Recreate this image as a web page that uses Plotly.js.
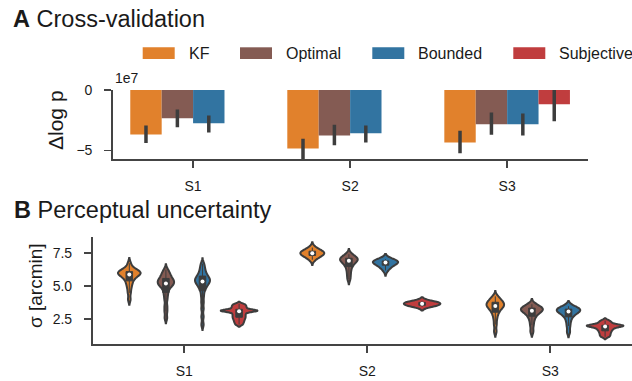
<!DOCTYPE html>
<html><head><meta charset="utf-8">
<script src="https://cdn.plot.ly/plotly-3.0.1.min.js"></script>
<style>html,body{margin:0;padding:0;background:#fff;overflow:hidden}</style>
</head><body><div id="chart" style="width:632px;height:381px"></div>
<script>
// ---------- data ----------
const subjects = ['S1', 'S2', 'S3'];
const models = ['KF', 'Optimal', 'Bounded', 'Subjective'];

// Panel A: delta log p (units of 1e7), with CI bounds
const dlogp_KF = [-3.67, -4.83, -4.33];
const dlogp_KF_lo = [-4.38, -5.69, -5.22];
const dlogp_KF_hi = [-2.94, -4.03, -3.36];
const dlogp_Optimal = [-2.33, -3.75, -2.83];
const dlogp_Optimal_lo = [-3.08, -4.55, -3.69];
const dlogp_Optimal_hi = [-1.61, -2.86, -1.86];
const dlogp_Bounded = [-2.75, -3.58, -2.83];
const dlogp_Bounded_lo = [-3.50, -4.33, -3.75];
const dlogp_Bounded_hi = [-2.11, -2.92, -1.94];
const dlogp_Subjective = [null, null, -1.17];
const dlogp_Subjective_lo = [null, null, -2.58];
const dlogp_Subjective_hi = [null, null, 0.0];

// Panel B: sigma samples [arcmin]
const sigma_KF_S1 = [4.0, 4.5, 4.85, 5.1, 5.3, 5.45, 5.6, 5.7, 5.78, 5.85, 5.9, 5.95, 6.0, 6.03, 6.06, 6.1, 6.15, 6.22, 6.3, 6.42, 6.75];
const sigma_KF_S2 = [7.01, 7.15, 7.25, 7.32, 7.38, 7.42, 7.46, 7.5, 7.53, 7.57, 7.62, 7.67, 7.73, 7.8, 7.93];
const sigma_KF_S3 = [1.58, 2.1, 2.5, 2.8, 3.0, 3.15, 3.27, 3.36, 3.44, 3.5, 3.56, 3.62, 3.68, 3.74, 3.81, 3.89, 3.98, 4.1, 4.24];
const sigma_Optimal_S1 = [2.6, 3.1, 3.5, 4.0, 4.35, 4.6, 4.87, 4.97, 5.07, 5.15, 5.22, 5.29, 5.35, 5.42, 5.49, 5.57, 5.67, 5.79, 5.92, 6.05, 6.27];
const sigma_Optimal_S2 = [5.55, 5.9, 6.2, 6.45, 6.62, 6.74, 6.84, 6.94, 6.98, 7.03, 7.08, 7.14, 7.2, 7.3, 7.43];
const sigma_Optimal_S3 = [1.58, 2.05, 2.4, 2.65, 2.82, 2.95, 3.05, 3.12, 3.18, 3.22, 3.27, 3.32, 3.38, 3.45, 3.53, 3.64];
const sigma_Bounded_S1 = [2.1, 2.7, 3.3, 3.8, 4.25, 4.6, 4.85, 4.98, 5.1, 5.2, 5.28, 5.36, 5.42, 5.48, 5.55, 5.62, 5.7, 5.8, 5.92, 6.05, 6.25, 6.45, 6.72];
const sigma_Bounded_S2 = [6.2, 6.38, 6.5, 6.6, 6.68, 6.74, 6.79, 6.82, 6.85, 6.88, 6.92, 6.96, 7.0, 7.05];
const sigma_Bounded_S3 = [1.54, 2.0, 2.35, 2.6, 2.78, 2.9, 2.99, 3.06, 3.12, 3.16, 3.2, 3.25, 3.3, 3.36, 3.42, 3.49];
const sigma_Subjective_S1 = [2.1, 2.24, 2.36, 2.47, 2.57, 2.66, 2.75, 2.84, 2.93, 3.02, 3.1, 3.12, 3.14, 3.16, 3.18, 3.2, 3.26, 3.34, 3.42, 3.5, 3.58, 3.67];
const sigma_Subjective_S2 = [3.44, 3.49, 3.54, 3.58, 3.62, 3.66, 3.7, 3.73, 3.76, 3.8, 3.84, 3.9];
const sigma_Subjective_S3 = [1.18, 1.3, 1.42, 1.53, 1.63, 1.72, 1.8, 1.87, 1.93, 1.99, 2.01, 2.02, 2.03, 2.05, 2.12, 2.2, 2.3, 2.41];

// ---------- styles ----------
const colors = {KF: '#e1812c', Optimal: '#845b53', Bounded: '#3274a1', Subjective: '#c03d3e'};
const kdeBandwidth = {KF: [0.2, 0.2, 0.2], Optimal: [0.2, 0.2, 0.2], Bounded: [0.2, 0.2, 0.2], Subjective: [0.08, 0.14, 0.09]};
const dark = '#3d3d3d';
const axisColor = '#444444';
const textColor = '#1a1a1a';
const FONT = 'Liberation Sans, Arial, Helvetica, sans-serif';
const W = 632, H = 381;
const px = v => v / W, py = v => 1 - v / H;

const barData = {
  KF: [dlogp_KF, dlogp_KF_lo, dlogp_KF_hi],
  Optimal: [dlogp_Optimal, dlogp_Optimal_lo, dlogp_Optimal_hi],
  Bounded: [dlogp_Bounded, dlogp_Bounded_lo, dlogp_Bounded_hi],
  Subjective: [dlogp_Subjective, dlogp_Subjective_lo, dlogp_Subjective_hi]
};
const sigmaData = {
  KF: [sigma_KF_S1, sigma_KF_S2, sigma_KF_S3],
  Optimal: [sigma_Optimal_S1, sigma_Optimal_S2, sigma_Optimal_S3],
  Bounded: [sigma_Bounded_S1, sigma_Bounded_S2, sigma_Bounded_S3],
  Subjective: [sigma_Subjective_S1, sigma_Subjective_S2, sigma_Subjective_S3]
};
function median(a) {
  const s = a.slice().sort((p, q) => p - q); const n = s.length;
  return n % 2 ? s[(n - 1) / 2] : (s[n / 2 - 1] + s[n / 2]) / 2;
}

const traces = [];
models.forEach(m => {
  const [v, lo, hi] = barData[m];
  traces.push({
    type: 'bar', x: subjects, y: v, name: m, xaxis: 'x', yaxis: 'y',
    offsetgroup: 'bar_' + m, alignmentgroup: 'bars',
    marker: {color: colors[m], line: {width: 0}}, showlegend: false, hoverinfo: 'skip',
    error_y: {type: 'data', symmetric: false,
      array: v.map((d, i) => d === null ? null : hi[i] - d),
      arrayminus: v.map((d, i) => d === null ? null : d - lo[i]),
      color: dark, thickness: 3.5, width: 0}
  });
});
// one violin per (model, subject); widths scaled within each subject (like seaborn scale_hue)
models.forEach(m => {
  subjects.forEach((s, i) => {
    const ys = sigmaData[m][i];
    traces.push({
      type: 'violin', x: ys.map(() => s), y: ys, name: m, xaxis: 'x2', yaxis: 'y2', orientation: 'v',
      offsetgroup: m, alignmentgroup: 'sig',
      scalegroup: s, scalemode: 'width', spanmode: 'soft', bandwidth: kdeBandwidth[m][i],
      fillcolor: colors[m], opacity: 1, line: {color: dark, width: 2},
      points: false, meanline: {visible: false},
      box: {visible: true, width: 0.18, fillcolor: dark, line: {color: dark, width: 1}},
      showlegend: false, hoverinfo: 'skip'
    });
  });
});
models.forEach(m => {
  traces.push({
    type: 'scatter', mode: 'markers', x: subjects, y: sigmaData[m].map(median),
    xaxis: 'x2', yaxis: 'y2', offsetgroup: m, alignmentgroup: 'sig', orientation: 'v',
    marker: {color: '#ffffff', size: 4, line: {width: 0}}, showlegend: false, hoverinfo: 'skip'
  });
});

const tickfont = {family: FONT, size: 14, color: textColor};
const axBase = {showline: true, linecolor: axisColor, linewidth: 1.8, ticks: 'outside', ticklen: 7,
  tickwidth: 1.8, tickcolor: axisColor, showgrid: false, zeroline: false, tickfont: tickfont, fixedrange: true};

const shapes = [], annotations = [];
const legX = [142.7, 240, 372.3, 513.3];
models.forEach((m, i) => {
  shapes.push({type: 'rect', xref: 'paper', yref: 'paper', x0: px(legX[i]), x1: px(legX[i] + 32),
    y0: py(59), y1: py(47.3), fillcolor: colors[m], line: {width: 0}});
  annotations.push({xref: 'paper', yref: 'paper', x: px(legX[i] + 44), y: py(53), text: m, showarrow: false,
    xanchor: 'left', yanchor: 'middle', font: {family: FONT, size: 16, color: textColor}});
});
annotations.push(
  {xref: 'paper', yref: 'paper', x: px(11), y: py(19), text: '<b>A</b> Cross-validation', showarrow: false,
   xanchor: 'left', yanchor: 'middle', font: {family: FONT, size: 23.5, color: textColor}},
  {xref: 'paper', yref: 'paper', x: px(12), y: py(210), text: '<b>B</b> Perceptual uncertainty', showarrow: false,
   xanchor: 'left', yanchor: 'middle', font: {family: FONT, size: 23.5, color: textColor}},
  {xref: 'paper', yref: 'paper', x: px(127), y: py(78), text: '1e7', showarrow: false,
   xanchor: 'center', yanchor: 'middle', font: {family: FONT, size: 14, color: textColor}},
  {xref: 'paper', yref: 'paper', x: px(55), y: py(120), text: 'Δlog p', showarrow: false, textangle: -90,
   xanchor: 'center', yanchor: 'middle', font: {family: FONT, size: 21, color: textColor}},
  {xref: 'paper', yref: 'paper', x: px(35), y: py(286), text: 'σ [arcmin]', showarrow: false, textangle: -90,
   xanchor: 'center', yanchor: 'middle', font: {family: FONT, size: 19, color: textColor}}
);

const layout = {
  width: W, height: H, margin: {l: 0, r: 0, t: 0, b: 0}, paper_bgcolor: '#fff', plot_bgcolor: 'rgba(0,0,0,0)',
  font: {family: FONT, color: textColor},
  showlegend: false,
  barmode: 'group', bargap: 0.2, bargroupgap: 0,
  violinmode: 'group', violingap: 0.2, violingroupgap: 0,
  scattermode: 'group', scattergap: 0.2,
  xaxis: Object.assign({}, axBase, {domain: [px(113), px(588)], anchor: 'y', type: 'category',
    categoryorder: 'array', categoryarray: subjects, range: [-0.51, 2.515], ticklabelstandoff: 6}),
  yaxis: Object.assign({}, axBase, {domain: [py(159.3), py(90)], anchor: 'x', range: [-5.72, 0],
    tickvals: [0, -5], ticklabelstandoff: 9}),
  xaxis2: Object.assign({}, axBase, {domain: [px(92.7), 1], anchor: 'y2', type: 'category',
    categoryorder: 'array', categoryarray: subjects, range: [-0.5, 2.447], ticklabelstandoff: 6}),
  yaxis2: Object.assign({}, axBase, {domain: [py(344.3), py(237.3)], anchor: 'x2', range: [0.61, 8.71],
    tickvals: [2.5, 5, 7.5], tickformat: '.1f', ticklabelstandoff: 9}),
  shapes: shapes, annotations: annotations
};
Plotly.newPlot('chart', traces, layout, {displayModeBar: false, staticPlot: true});
</script></body></html>
